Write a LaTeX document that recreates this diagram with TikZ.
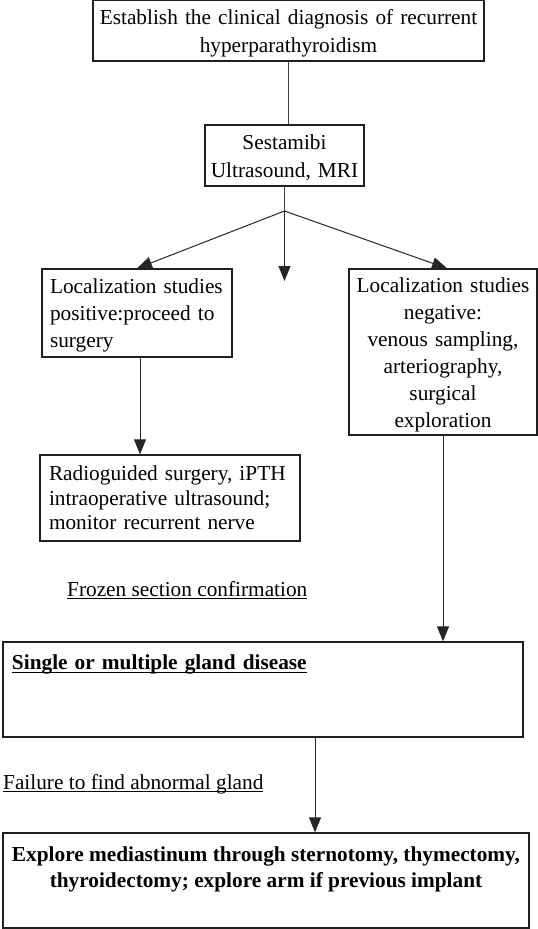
\documentclass[tikz,border=0pt]{standalone}
\usepackage{fontspec}
\setmainfont{Liberation Serif}
\usetikzlibrary{arrows.meta,calc}
\newcommand{\myul}[2][3pt]{\setbox0=\hbox{#2}\leavevmode\rlap{\rule[-#1]{\wd0}{1pt}}\box0}
\newcommand{\tp}{\rule{0pt}{20pt}}
\begin{document}
\begin{tikzpicture}[x=1pt,y=-1pt,
  every node/.style={font=\fontsize{21.3}{27}\selectfont},
  box/.style={draw=black!88,line width=1.3pt,rectangle,inner sep=0pt},
  arr/.style={draw=black!85,line width=1pt,-{Triangle[length=15pt,width=12pt]}},
  ln/.style={draw=black!75,line width=1pt},
  lbl/.style={inner sep=0pt,anchor=base west}]
\useasboundingbox (0,0) rectangle (538,929);

\node[box,minimum width=391,minimum height=61,text width=380,align=center,
  font=\fontsize{21.3}{28}\selectfont] (top) at (288.5,30.5)
  {\tp Establish the clinical diagnosis of recurrent\\hyperparathyroidism};
\node[box,minimum width=159,minimum height=61,text width=155,align=center,
  font=\fontsize{21.3}{28}\selectfont] (sest) at (284.5,155.5)
  {\tp Sestamibi\\Ultrasound, MRI};
\node[box,minimum width=190,minimum height=88,text width=174,align=left] (lb) at (137,313)
  {\tp Localization studies\\positive:proceed to\\surgery};
\node[box,minimum width=188,minimum height=166,text width=180,align=center] (rb) at (443,352)
  {\tp Localization studies\\negative:\\venous sampling,\\arteriography,\\surgical\\exploration};
\node[box,minimum width=260,minimum height=86,text width=242,align=left,
  font=\fontsize{21.3}{24.5}\selectfont] (rg) at (170,498)
  {Radioguided surgery, iPTH\\intraoperative ultrasound;\\monitor recurrent nerve};
\node[lbl] (fz) at (67,596) {\myul{Frozen section confirmation}};
\node[box,minimum width=520,minimum height=95,text width=502,align=left] (sg) at (263,689.5)
  {\myul[3.5pt]{\textbf{Single or multiple gland disease}}\\\mbox{}\\\mbox{}};
\node[lbl] (fl) at (3,789) {\myul{Failure to find abnormal gland}};
\node[box,minimum width=526,minimum height=95,align=center,
  font=\fontsize{21.3}{26}\selectfont] (bx) at (266,880.5)
  {\textbf{Explore mediastinum through sternotomy, thymectomy,}\\\textbf{thyroidectomy; explore arm if previous implant}\\\mbox{}};

\coordinate (br) at (284.5,211);
\coordinate (mid) at (284.5,281);

\draw[ln] (top.south) -- (top.south |- sest.north);
\draw[ln] (sest.south) -- (br);
\draw[arr] (br) -- (lb.north);
\draw[arr] (br) -- (mid);
\draw[arr] (br) -- ([xshift=4pt]rb.north);
\draw[arr] ([xshift=3pt]lb.south) -- ([xshift=3pt]lb.south |- rg.north);
\draw[arr] (rb.south) -- (rb.south |- sg.north);
\draw[arr] (sg.south -| 315,0) -- (bx.north -| 315,0);
\end{tikzpicture}
\end{document}
